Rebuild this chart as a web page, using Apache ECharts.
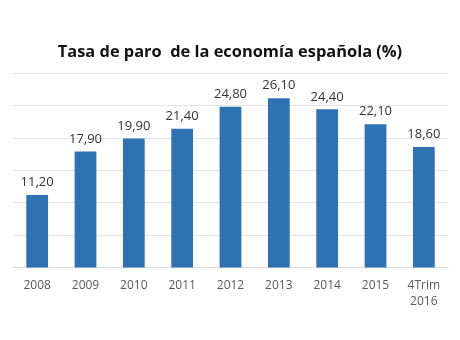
<!DOCTYPE html>
<html><head><meta charset="utf-8">
<script src="https://cdn.jsdelivr.net/npm/echarts@6/dist/echarts.min.js"></script>
<style>html,body{margin:0;padding:0;background:#fff}#c{width:460px;height:340px}</style>
</head><body><div id="c"></div>
<script>
const categories = ['2008','2009','2010','2011','2012','2013','2014','2015','4Trim\n2016'];
const values = [11.2, 17.9, 19.9, 21.4, 24.8, 26.1, 24.4, 22.1, 18.6];
const chart = echarts.init(document.getElementById('c'));
chart.setOption({
  animation: false,
  backgroundColor: '#fff',
  title: {
    text: 'Tasa de paro  de la economía española (%)',
    left: 'center', top: 39,
    textStyle: { fontFamily: 'Open Sans', fontWeight: 'bold', fontSize: 16.4, color: '#111' }
  },
  grid: { left: 13, right: 12, top: 73, bottom: 72.5 },
  xAxis: {
    type: 'category', data: categories,
    axisLine: { lineStyle: { color: '#d9d9d9' } },
    axisTick: { show: false },
    axisLabel: { color: '#595959', fontFamily: 'Open Sans', fontSize: 12, margin: 10, lineHeight: 16, interval: 0 }
  },
  yAxis: {
    type: 'value', min: 0, max: 30, interval: 5,
    axisLabel: { show: false },
    axisLine: { show: false }, axisTick: { show: false },
    splitLine: { lineStyle: { color: '#e4e4e4' } }
  },
  series: [{
    type: 'bar', data: values, barWidth: '45%',
    itemStyle: { color: '#2e72b4' },
    label: {
      show: true, position: 'top', distance: 6,
      color: '#333', fontFamily: 'Open Sans', fontSize: 13,
      formatter: p => p.value.toFixed(2).replace('.', ',')
    }
  }]
});
</script></body></html>
